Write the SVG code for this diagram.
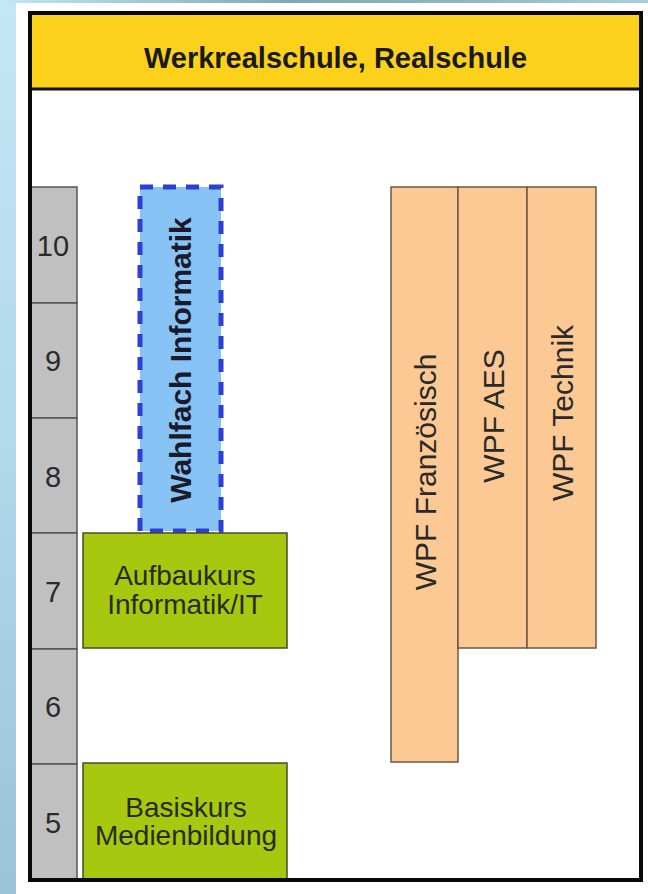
<svg xmlns="http://www.w3.org/2000/svg" width="648" height="894" viewBox="0 0 648 894">
  <defs>
    <linearGradient id="sideGrad" x1="0" y1="0" x2="0" y2="1">
      <stop offset="0" stop-color="#c4e6f7"/>
      <stop offset="0.5" stop-color="#b2d8ea"/>
      <stop offset="1" stop-color="#9bc3d6"/>
    </linearGradient>
    <linearGradient id="topGrad" x1="0" y1="0" x2="1" y2="0">
      <stop offset="0" stop-color="#c4e6f7"/>
      <stop offset="0.45" stop-color="#7fa9b0"/>
      <stop offset="0.7" stop-color="#8fb6be"/>
      <stop offset="1" stop-color="#a9cfd8"/>
    </linearGradient>
    <style>
      .grade { fill: #c0c0c0; stroke: #555555; stroke-width: 1.5; }
      .num { font-family: "Liberation Sans", Arial, sans-serif; font-size: 29px; fill: #2a2a2a; text-anchor: middle; }
      .green { fill: #a6c80f; stroke: #4a4a2a; stroke-width: 1.5; }
      .gtxt { font-family: "Liberation Sans", Arial, sans-serif; font-size: 28px; fill: #2a2a1a; text-anchor: middle; }
      .wpf { fill: #fcc995; stroke: #6b5848; stroke-width: 1.5; }
      .wtxt { font-family: "Liberation Sans", Arial, sans-serif; font-size: 30px; fill: #2a2a2a; text-anchor: middle; }
      .title { font-family: "Liberation Sans", Arial, sans-serif; font-size: 29px; font-weight: bold; fill: #1a1a1a; text-anchor: middle; }
      .wahl { fill: #88c3f6; stroke: #2b40d6; stroke-width: 5; stroke-dasharray: 13 10; }
      .wahltxt { font-family: "Liberation Sans", Arial, sans-serif; font-size: 30px; font-weight: bold; fill: #1a1a2a; text-anchor: middle; }
    </style>
  </defs>

  <!-- background -->
  <rect x="0" y="0" width="648" height="894" fill="#ffffff"/>
  <rect x="0" y="0" width="16" height="894" fill="url(#sideGrad)"/>
  <rect x="0" y="0" width="648" height="3" fill="url(#topGrad)"/>

  <!-- frame interior -->
  <rect x="30" y="13" width="611" height="867" fill="#ffffff"/>

  <!-- header -->
  <g id="header">
    <rect x="30" y="13" width="611" height="76" fill="#fcd11c"/>
    <line x1="30" y1="89" x2="641" y2="89" stroke="#111111" stroke-width="3"/>
    <text class="title" x="335.5" y="68">Werkrealschule, Realschule</text>
  </g>

  <!-- grade column -->
  <g id="grade10"><rect class="grade" x="31" y="187" width="46" height="116"/><text class="num" x="53" y="256">10</text></g>
  <g id="grade9"><rect class="grade" x="31" y="303" width="46" height="115"/><text class="num" x="53" y="371">9</text></g>
  <g id="grade8"><rect class="grade" x="31" y="418" width="46" height="115"/><text class="num" x="53" y="487">8</text></g>
  <g id="grade7"><rect class="grade" x="31" y="533" width="46" height="116"/><text class="num" x="53" y="602">7</text></g>
  <g id="grade6"><rect class="grade" x="31" y="649" width="46" height="115"/><text class="num" x="53" y="717">6</text></g>
  <g id="grade5"><rect class="grade" x="31" y="764" width="46" height="116"/><text class="num" x="53" y="833">5</text></g>

  <!-- Wahlfach Informatik -->
  <g id="wahlfach">
    <rect class="wahl" x="140" y="187" width="81" height="344"/>
    <text class="wahltxt" transform="translate(191,360) rotate(-90)" x="0" y="0">Wahlfach Informatik</text>
  </g>

  <!-- Aufbaukurs -->
  <g id="aufbaukurs">
    <rect class="green" x="83" y="533" width="204" height="115"/>
    <text class="gtxt" x="185" y="585">Aufbaukurs</text>
    <text class="gtxt" x="185" y="614">Informatik/IT</text>
  </g>

  <!-- Basiskurs -->
  <g id="basiskurs">
    <rect class="green" x="83" y="763" width="204" height="117"/>
    <text class="gtxt" x="186" y="817">Basiskurs</text>
    <text class="gtxt" x="186" y="845">Medienbildung</text>
  </g>

  <!-- WPF -->
  <g id="wpf-franzoesisch">
    <rect class="wpf" x="391" y="187" width="67" height="575"/>
    <text class="wtxt" transform="translate(435.5,472) rotate(-90)" x="0" y="0">WPF Französisch</text>
  </g>
  <g id="wpf-aes">
    <rect class="wpf" x="458" y="187" width="69" height="461"/>
    <text class="wtxt" transform="translate(503.5,416) rotate(-90)" x="0" y="0">WPF AES</text>
  </g>
  <g id="wpf-technik">
    <rect class="wpf" x="527" y="187" width="69" height="461"/>
    <text class="wtxt" transform="translate(572.5,413) rotate(-90)" x="0" y="0">WPF Technik</text>
  </g>

  <g id="connectors"/>

  <!-- frame border -->
  <rect x="30" y="13" width="611" height="867" fill="none" stroke="#0a0a0a" stroke-width="4"/>
</svg>
